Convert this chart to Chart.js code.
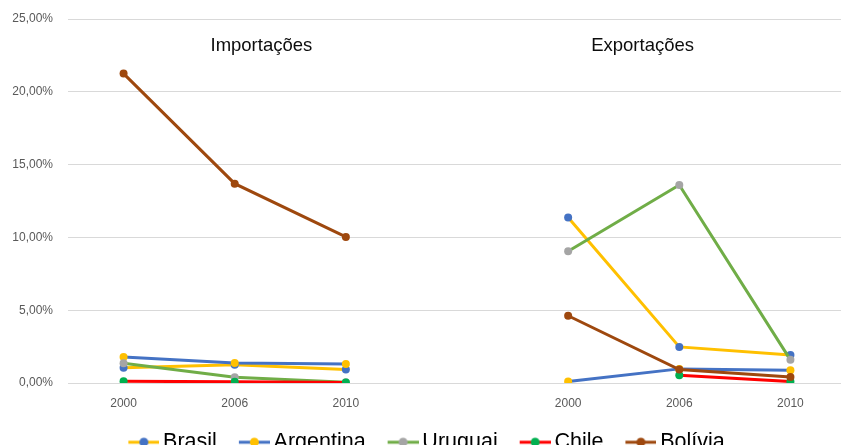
<!DOCTYPE html>
<html>
<head>
<meta charset="utf-8">
<script src="https://cdn.jsdelivr.net/npm/chart.js@4"></script>
<style>
    html, body { margin: 0; padding: 0; background: #fff; overflow: hidden; }
    #wrap { width: 850px; height: 467px; position: relative; }
</style>
</head>
<body>
<div id="wrap"><canvas id="grafico"></canvas></div>
<script>
// Participação por país - importações e exportações
const anos = ['2000', '2006', '2010', '', '2000', '2006', '2010'];
const paineis = ['Importações', 'Exportações'];
const paises = ['Brasil', 'Argentina', 'Uruguai', 'Chile', 'Bolívia'];

const brasil    = [1.04, 1.25, 0.92, null, 11.36, 2.48, 1.93];
const argentina = [1.79, 1.38, 1.31, null, 0.10, 0.97, 0.88];
const uruguai   = [1.36, 0.40, 0.05, null, 9.05, 13.60, 1.59];
const chile     = [0.12, 0.08, 0.03, null, null, 0.54, 0.10];
const bolivia   = [21.25, 13.69, 10.03, null, 4.62, 0.92, 0.42];

const series = [brasil, argentina, uruguai, chile, bolivia];
const corLinha = ['#FFC000', '#4472C4', '#70AD47', '#FF0000', '#9E480E'];
const corPonto = ['#4472C4', '#FFC000', '#A5A5A5', '#00B050', '#9E480E'];

// pequena imagem "linha + marcador" para a legenda
function iconeLegenda(linha, ponto) {
    const c = document.createElement('canvas');
    c.width = 42;
    c.height = 12;
    const ctx = c.getContext('2d');
    ctx.strokeStyle = linha;
    ctx.lineWidth = 3;
    ctx.beginPath();
    ctx.moveTo(11, 6);
    ctx.lineTo(42, 6);
    ctx.stroke();
    ctx.fillStyle = ponto;
    ctx.beginPath();
    ctx.arc(26.5, 6, 4.5, 0, Math.PI * 2);
    ctx.fill();
    return c;
}
const icones = paises.map((p, i) => iconeLegenda(corLinha[i], corPonto[i]));

// títulos dos dois blocos
const titulosPlugin = {
    id: 'titulos',
    afterDraw(chart) {
        const x = chart.scales.x;
        const passo = x.getPixelForValue(1) - x.getPixelForValue(0);
        const pos = [1.24, 4.67];
        const ctx = chart.ctx;
        ctx.save();
        ctx.font = '18.5px "Liberation Sans", Arial, sans-serif';
        ctx.fillStyle = '#0d0d0d';
        ctx.textAlign = 'center';
        ctx.textBaseline = 'middle';
        paineis.forEach((t, i) => {
            ctx.fillText(t, x.getPixelForValue(0) + pos[i] * passo, 46);
        });
        ctx.restore();
    }
};

new Chart(document.getElementById('grafico'), {
    type: 'line',
    data: {
        labels: anos,
        datasets: series.map((dados, i) => ({
            label: paises[i],
            data: dados,
            borderColor: corLinha[i],
            backgroundColor: corPonto[i],
            borderWidth: 3,
            tension: 0,
            spanGaps: false,
            pointRadius: 4,
            pointBorderWidth: 0,
            pointBackgroundColor: corPonto[i],
            pointBorderColor: corPonto[i],
            order: series.length - 1 - i
        }))
    },
    options: {
        responsive: true,
        maintainAspectRatio: false,
        animation: false,
        events: [],
        layout: { padding: { top: 19, right: 1, left: 0, bottom: 4 } },
        plugins: {
            tooltip: { enabled: false },
            legend: {
                position: 'bottom',
                labels: {
                    usePointStyle: true,
                    pointStyleWidth: 28,
                    padding: 18,
                    color: '#0d0d0d',
                    font: { family: '"Liberation Sans", Arial, sans-serif', size: 21.5 },
                    generateLabels: function(chart) {
                        return chart.data.datasets.map((ds, i) => ({
                            text: ds.label,
                            pointStyle: icones[i],
                            datasetIndex: i,
                            hidden: false,
                            lineWidth: 0,
                            strokeStyle: 'rgba(0,0,0,0)',
                            fillStyle: 'rgba(0,0,0,0)'
                        }));
                    }
                }
            }
        },
        scales: {
            x: {
                offset: true,
                grid: { display: false, drawTicks: false },
                border: { display: false },
                ticks: {
                    color: '#595959',
                    padding: 13,
                    autoSkip: false,
                    maxRotation: 0,
                    font: { family: '"Liberation Sans", Arial, sans-serif', size: 12 }
                },
                afterFit: function(s) { s.height = 30.5; }
            },
            y: {
                min: 0,
                max: 25,
                grid: { color: '#D9D9D9', lineWidth: 1, drawTicks: false, tickLength: 0 },
                border: { display: false },
                ticks: {
                    stepSize: 5,
                    color: '#595959',
                    padding: 15,
                    font: { family: '"Liberation Sans", Arial, sans-serif', size: 12 },
                    callback: function(v) { return v.toFixed(2).replace('.', ',') + '%'; }
                },
                afterFit: function(s) {
                    s.width = 68;
                    s.paddingTop = 0;
                    s.paddingBottom = 0;
                }
            }
        }
    },
    plugins: [titulosPlugin]
});
</script>
</body>
</html>
